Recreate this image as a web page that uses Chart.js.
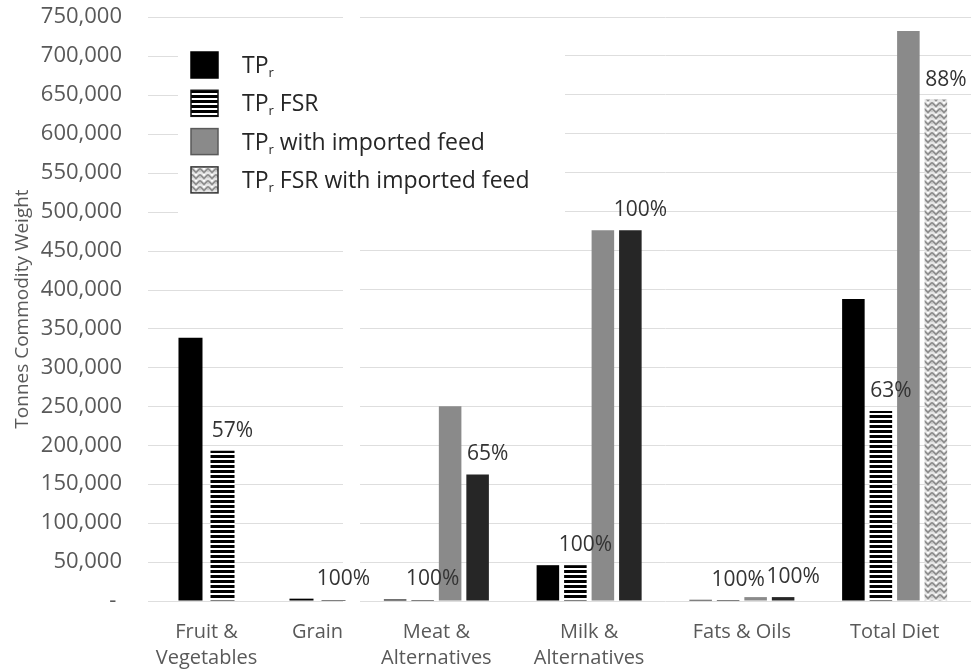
<!DOCTYPE html>
<html>
<head>
<meta charset="utf-8">
<script src="https://cdn.jsdelivr.net/npm/chart.js@4.4.1/dist/chart.umd.min.js"></script>
<style>
  html, body { margin: 0; padding: 0; background: #fff; }
  #wrap { position: relative; width: 971px; height: 672px; overflow: hidden; }
  #cRight { position: absolute; left: 356px; top: 0; }
  #cLeft { position: absolute; left: 0; top: 0; }
</style>
</head>
<body>
<div id="wrap">
  <canvas id="cRight" width="615" height="672"></canvas>
  <canvas id="cLeft" width="971" height="672"></canvas>
</div>
<script>
// Commodity groups (multi-line labels are arrays)
const categories = [
  ['Fruit &', 'Vegetables'],
  'Grain',
  ['Meat &', 'Alternatives'],
  ['Milk &', 'Alternatives'],
  'Fats & Oils',
  'Total Diet'
];

// Series names; the "r" after "TP" is set as a subscript when drawn
const seriesNames = ['TPr', 'TPr FSR', 'TPr with imported feed', 'TPr FSR with imported feed'];

// Tonnes commodity weight per group
const tpr            = [338000, 3000, 2000,  46000, 1500, 388000];
const tprFsr         = [193000, 3000, 2000,  46000, 1500, 244000];
const tprImported    = [null,   null, 250000, 476000, 5000, 732000];
const tprFsrImported = [null,   null, 162500, 476000, 5000, 644000];

// Value axis
const yMin = 0;
const yMax = 750000;
const yStep = 50000;

// Plant groups sit in the left panel, the rest in the right panel
const leftCount = 2;

const FONT = "'Open Sans', 'DejaVu Sans', sans-serif";
const AXIS_TEXT = '#595959';
const GRID = '#dedede';
const BLACK = '#000000';
const GREY = '#8a8a8a';
const DARK = '#262626';

Chart.defaults.font.family = FONT;

const ctxLeft = document.getElementById('cLeft').getContext('2d');
const ctxRight = document.getElementById('cRight').getContext('2d');

// horizontal black/white stripes
function stripes(ctx) {
  const c = document.createElement('canvas');
  c.width = 4; c.height = 5;
  const g = c.getContext('2d');
  g.fillStyle = '#fff'; g.fillRect(0, 0, 4, 5);
  g.fillStyle = '#000'; g.fillRect(0, 0, 4, 3);
  return ctx.createPattern(c, 'repeat');
}

// light grey woven chevron texture
function weave(ctx) {
  const c = document.createElement('canvas');
  c.width = 8; c.height = 6;
  const g = c.getContext('2d');
  g.fillStyle = '#e6e6e6'; g.fillRect(0, 0, 8, 6);
  g.strokeStyle = '#8e8e8e';
  g.lineWidth = 1.8;
  g.beginPath();
  g.moveTo(0, 0.5); g.lineTo(4, 4.5); g.lineTo(8, 0.5);
  g.moveTo(-4, 6.5); g.lineTo(0, 2.5);
  g.moveTo(8, 2.5); g.lineTo(12, 6.5);
  g.stroke();
  g.fillStyle = '#ffffff';
  g.fillRect(3, 0, 2, 1.5);
  return ctx.createPattern(c, 'repeat');
}

const stripesLeft = stripes(ctxLeft);
const stripesRight = stripes(ctxRight);
const weaveLeft = weave(ctxLeft);
const weaveRight = weave(ctxRight);

// Percentage labels: FSR series relative to its base series
const percentLabels = {
  id: 'percentLabels',
  afterDatasetsDraw(chart) {
    const { ctx } = chart;
    ctx.save();
    ctx.font = '21px ' + FONT;
    ctx.fillStyle = '#333333';
    ctx.textAlign = 'center';
    ctx.textBaseline = 'middle';
    chart.data.datasets.forEach((ds, di) => {
      if (ds.ratioOf === undefined) return;
      const base = chart.data.datasets[ds.ratioOf].data;
      const meta = chart.getDatasetMeta(di);
      ds.data.forEach((v, i) => {
        if (v == null || !base[i]) return;
        const bar = meta.data[i];
        const txt = Math.round(v / base[i] * 100) + '%';
        ctx.fillText(txt, bar.x + 10, bar.y - 20);
      });
    });
    ctx.restore();
  }
};

// Left panel grid lines stop short of the panel gap
const leftGrid = {
  id: 'leftGrid',
  beforeDatasetsDraw(chart) {
    const { ctx, scales: { y } } = chart;
    ctx.save();
    ctx.strokeStyle = GRID;
    ctx.lineWidth = 1;
    y.ticks.forEach((t, i) => {
      const py = Math.round(y.getPixelForTick(i)) + 0.5;
      ctx.beginPath();
      ctx.moveTo(148, py);
      ctx.lineTo(343, py);
      ctx.stroke();
    });
    ctx.restore();
  }
};

// Legend box inside the plot, upper left
const legendBox = {
  id: 'legendBox',
  afterDraw(chart) {
    const { ctx } = chart;
    const fills = [BLACK, stripesLeft, GREY, weaveLeft];
    const edges = ['#000', '#111', '#5a5a5a', '#333'];
    ctx.save();
    ctx.fillStyle = '#fff';
    ctx.fillRect(178, 38, 387, 180);
    seriesNames.forEach((name, i) => {
      const cy = 65 + i * 38.3;
      ctx.fillStyle = fills[i];
      ctx.fillRect(191, cy - 13, 27, 26);
      ctx.strokeStyle = edges[i];
      ctx.lineWidth = 1.5;
      ctx.strokeRect(191, cy - 13, 27, 26);
      ctx.fillStyle = '#262626';
      ctx.textBaseline = 'alphabetic';
      ctx.textAlign = 'left';
      let x = 242;
      const base = cy + 8;
      ctx.font = '23px ' + FONT;
      const head = name.slice(0, 2);
      ctx.fillText(head, x, base);
      x += ctx.measureText(head).width;
      ctx.font = '13px ' + FONT;
      ctx.fillText(name[2], x, base + 4);
      x += ctx.measureText(name[2]).width;
      ctx.font = '23px ' + FONT;
      ctx.fillText(name.slice(3), x, base);
    });
    ctx.restore();
  }
};

function valueAxis(withLabels) {
  return {
    min: yMin,
    max: yMax,
    border: { display: false },
    grid: {
      color: GRID,
      drawOnChartArea: !withLabels,
      drawTicks: withLabels,
      tickLength: 29,
      tickColor: 'rgba(0,0,0,0)'
    },
    ticks: {
      display: withLabels,
      stepSize: yStep,
      color: AXIS_TEXT,
      padding: 0,
      font: { size: 22 },
      callback: v => v === 0 ? '- ' : v.toLocaleString('en-US')
    },
    title: {
      display: withLabels,
      text: 'Tonnes Commodity Weight',
      color: AXIS_TEXT,
      font: { size: 19 },
      padding: { top: 11, bottom: 0 }
    },
    afterFit(scale) { scale.width = withLabels ? 151 : 4; }
  };
}

function categoryAxis() {
  return {
    border: { display: false },
    grid: { display: false, drawTicks: false },
    ticks: {
      color: AXIS_TEXT,
      padding: 18,
      maxRotation: 0,
      autoSkip: false,
      font: { size: 20, lineHeight: 1.3 }
    },
    afterFit(scale) { scale.height = 71; }
  };
}

const baseOptions = {
  responsive: false,
  animation: false,
  devicePixelRatio: 1,
  plugins: { legend: { display: false }, tooltip: { enabled: false } }
};

// Right panel: meat, milk, fats, total
const rightCats = categories.slice(leftCount);
new Chart(ctxRight, {
  type: 'bar',
  data: {
    labels: rightCats,
    datasets: [
      { label: seriesNames[0], data: tpr.slice(leftCount), backgroundColor: BLACK },
      { label: seriesNames[1], data: tprFsr.slice(leftCount), backgroundColor: stripesRight, ratioOf: 0 },
      { label: seriesNames[2], data: tprImported.slice(leftCount), backgroundColor: GREY },
      { label: seriesNames[3], data: tprFsrImported.slice(leftCount), ratioOf: 2,
        backgroundColor: rightCats.map(c => c === 'Total Diet' ? weaveRight : DARK) }
    ]
  },
  options: Object.assign({}, baseOptions, {
    layout: { padding: { top: 17, bottom: 0, left: 0, right: 0 } },
    datasets: { bar: { categoryPercentage: 0.72, barPercentage: 0.82 } },
    scales: { x: categoryAxis(), y: valueAxis(false) }
  }),
  plugins: [percentLabels]
});

// Left panel: fruit & vegetables, grain (no imported-feed values), with value axis and legend
new Chart(ctxLeft, {
  type: 'bar',
  data: {
    labels: categories.slice(0, leftCount),
    datasets: [
      { label: seriesNames[0], data: tpr.slice(0, leftCount), backgroundColor: BLACK },
      { label: seriesNames[1], data: tprFsr.slice(0, leftCount), backgroundColor: stripesLeft, ratioOf: 0 }
    ]
  },
  options: Object.assign({}, baseOptions, {
    layout: { padding: { top: 17, bottom: 0, left: 0, right: 598 } },
    datasets: { bar: { categoryPercentage: 0.577, barPercentage: 0.75 } },
    scales: { x: categoryAxis(), y: valueAxis(true) }
  }),
  plugins: [leftGrid, percentLabels, legendBox]
});
</script>
</body>
</html>
